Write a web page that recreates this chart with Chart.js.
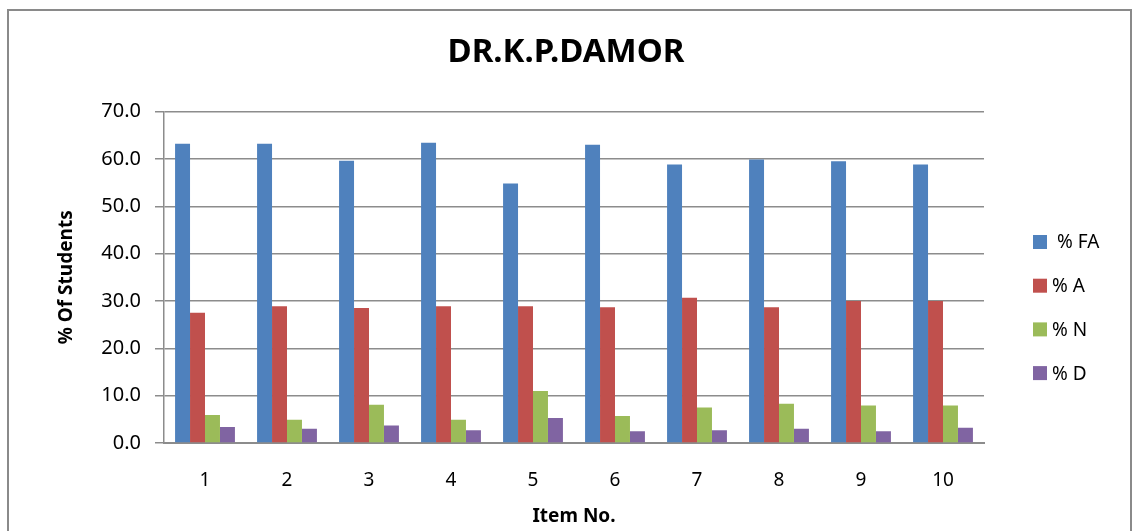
<!DOCTYPE html>
<html>
<head>
<meta charset="utf-8">
<script src="https://cdn.jsdelivr.net/npm/chart.js@4/dist/chart.umd.min.js"></script>
<style>
  body { margin: 0; background: #fff; overflow: hidden; }
  #wrap { position: relative; width: 1132px; height: 531px; overflow: hidden; }
  #frame { position: absolute; left: 7px; top: 9px; width: 1121px; height: 600px; border: 2px solid #8a8a8a; pointer-events: none; }
</style>
</head>
<body>
<div id="wrap">
  <canvas id="myChart" width="1132" height="531"></canvas>
  <div id="frame"></div>
</div>
<script>
// item numbers and the % per response
const items = ["1", "2", "3", "4", "5", "6", "7", "8", "9", "10"];
const pctFA = [63.2, 63.2, 59.6, 63.4, 54.8, 63.0, 58.8, 59.9, 59.5, 58.8];
const pctA = [27.5, 28.9, 28.5, 28.9, 28.9, 28.7, 30.7, 28.7, 30.0, 30.0];
const pctN = [5.9, 4.9, 8.1, 4.9, 11.0, 5.7, 7.5, 8.3, 7.9, 7.9];
const pctD = [3.4, 3.0, 3.7, 2.7, 5.3, 2.5, 2.7, 3.0, 2.5, 3.2];
const seriesNames = [" % FA", "% A", "% N", "% D"];
const colors = ["#4F81BD", "#C0504D", "#9BBB59", "#8064A2"];

const gridColor = "#8c8c8c";

// legend drawn beside the plot, Excel style
const sideLegend = {
  id: "sideLegend",
  afterDraw(chart) {
    const ctx = chart.ctx;
    const x = chart.chartArea.right + 49;
    let y = 242;
    ctx.save();
    ctx.font = "19px 'Noto Sans'";
    ctx.textBaseline = "middle";
    chart.data.datasets.forEach(ds => {
      ctx.fillStyle = ds.backgroundColor;
      ctx.fillRect(x, y - 7, 14, 14);
      ctx.fillStyle = "#000";
      ctx.fillText(ds.label, x + 19, y + 1);
      y += 43.7;
    });
    ctx.restore();
  }
};

const ctx = document.getElementById("myChart").getContext("2d");
new Chart(ctx, {
  type: "bar",
  data: {
    labels: items,
    datasets: [
      { label: seriesNames[0], data: pctFA, backgroundColor: colors[0] },
      { label: seriesNames[1], data: pctA, backgroundColor: colors[1] },
      { label: seriesNames[2], data: pctN, backgroundColor: colors[2] },
      { label: seriesNames[3], data: pctD, backgroundColor: colors[3] }
    ]
  },
  options: {
    responsive: false,
    animation: false,
    datasets: { bar: { categoryPercentage: 0.73, barPercentage: 1.0 } },
    plugins: {
      legend: { display: false },
      tooltip: { enabled: false },
      title: {
        display: true,
        text: "DR.K.P.DAMOR",
        color: "#000",
        font: { family: "'Noto Sans'", size: 33, weight: "bold" },
        padding: { top: 33, bottom: 39 }
      }
    },
    scales: {
      x: {
        grid: { display: false, drawTicks: false },
        border: { display: true, color: gridColor, width: 2 },
        ticks: { color: "#000", font: { family: "'Noto Sans'", size: 19 }, padding: 26 },
        title: {
          display: true,
          text: "Item No.",
          color: "#000",
          font: { family: "'Noto Sans'", size: 19, weight: "bold" },
          padding: { top: 0, bottom: 3 }
        },
        afterFit: s => { s.height = 88; }
      },
      y: {
        min: 0,
        max: 70,
        ticks: {
          stepSize: 10,
          color: "#000",
          font: { family: "'Noto Sans'", size: 20 },
          padding: 14,
          callback: v => v.toFixed(1)
        },
        grid: { color: gridColor, lineWidth: 1.5, tickLength: 9 },
        border: { display: true, color: gridColor, width: 1.5 },
        title: {
          display: true,
          text: "% Of Students",
          color: "#000",
          font: { family: "'Noto Sans'", size: 19, weight: "bold" },
          padding: { top: 55, bottom: 0 }
        },
        afterFit: s => { s.width = 164; }
      },
      // empty right axis that only keeps room for the legend
      yRoom: {
        position: "right",
        min: 0,
        max: 70,
        grid: { display: false, drawTicks: false },
        border: { display: false },
        ticks: { display: false },
        afterFit: s => { s.width = 148; }
      }
    }
  },
  plugins: [sideLegend]
});
</script>
</body>
</html>
